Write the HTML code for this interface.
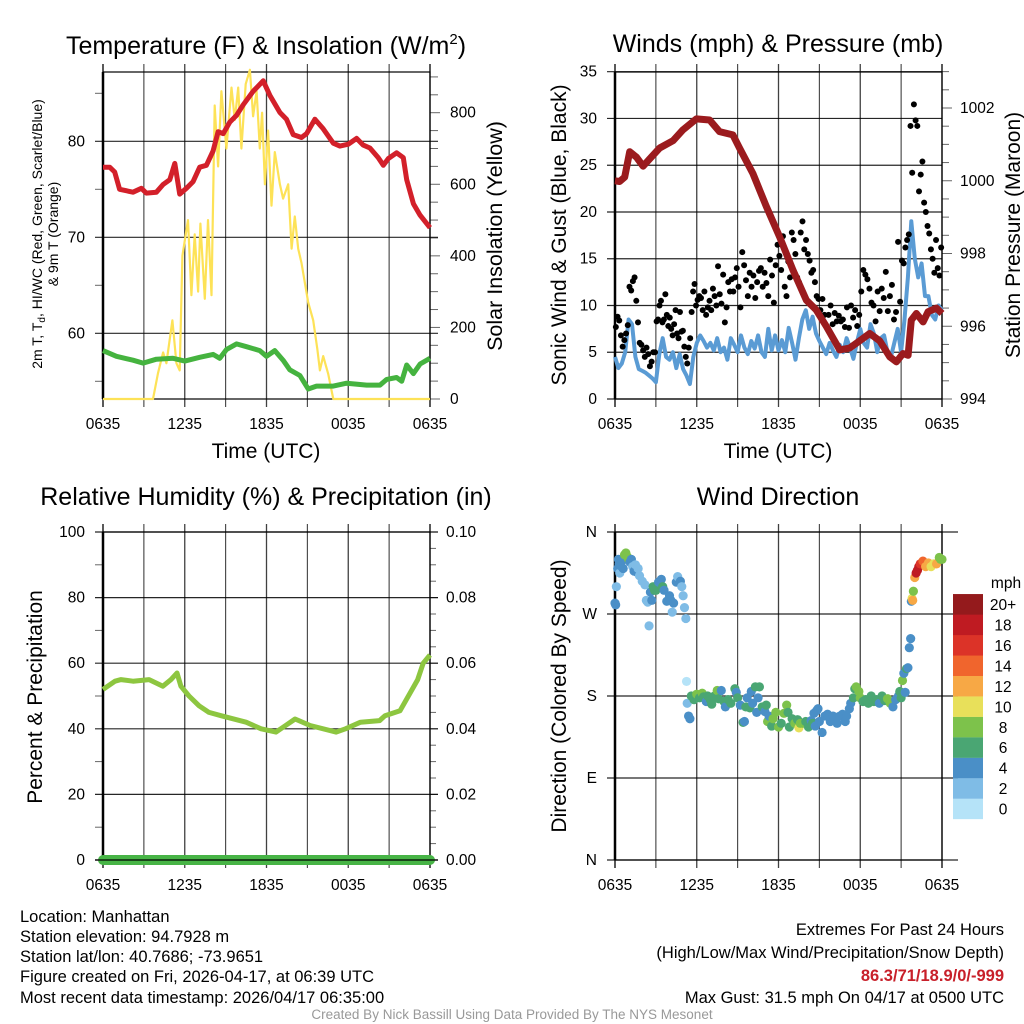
<!DOCTYPE html>
<html><head><meta charset="utf-8"><style>
html,body{margin:0;padding:0;background:#fff}
svg{display:block;font-family:"Liberation Sans",sans-serif}
</style></head><body>
<svg id="fig" width="1024" height="1024" viewBox="0 0 1024 1024" xmlns="http://www.w3.org/2000/svg">
<g id="layer"></g>
<g font-size="16.5" fill="#000">
<text x="20" y="922">Location: Manhattan</text>
<text x="20" y="942">Station elevation: 94.7928 m</text>
<text x="20" y="962">Station lat/lon: 40.7686; -73.9651</text>
<text x="20" y="982">Figure created on Fri, 2026-04-17, at 06:39 UTC</text>
<text x="20" y="1003">Most recent data timestamp: 2026/04/17 06:35:00</text>
<text x="1004" y="935" text-anchor="end">Extremes For Past 24 Hours</text>
<text x="1004" y="958" text-anchor="end">(High/Low/Max Wind/Precipitation/Snow Depth)</text>
<text x="1004" y="981" text-anchor="end" fill="#c8202a" font-weight="bold">86.3/71/18.9/0/-999</text>
<text x="1004" y="1003" text-anchor="end">Max Gust: 31.5 mph On 04/17 at 0500 UTC</text>
<text x="512" y="1019" text-anchor="middle" font-size="13.5" fill="#999">Created By Nick Bassill Using Data Provided By The NYS Mesonet</text>
</g>
</svg>
<script>
// ---------- DATA ----------
const timeTickLabels = ["0635","1235","1835","0035","0635"];
const tempT = [0,0.49,0.86,1.22,2.2,2.82,3.18,3.92,4.41,4.9,5.27,5.63,6.12,6.61,7.1,7.59,8.08,8.45,8.82,9.31,9.8,10.29,11.02,11.76,12.24,12.98,13.47,13.96,14.57,14.94,15.55,16.16,16.9,17.39,18.0,18.61,19.1,19.59,20.2,20.57,20.94,21.55,22.04,22.29,22.78,23.27,24];
const tempV = [77.3,77.3,76.8,75.0,74.7,75.1,74.6,74.7,75.5,76.0,77.7,74.5,75.1,75.8,77.3,77.5,79.0,81.0,80.8,82.0,82.7,83.8,85.2,86.3,84.8,83.0,82.3,80.7,80.4,80.8,82.3,81.3,79.8,79.5,79.7,80.3,79.6,79.3,78.3,77.5,78.2,78.8,78.3,76.0,73.5,72.3,71.0];
const dewT = [0,0.98,2.2,2.94,3.92,5.14,6.0,7.1,8.08,8.57,9.06,9.8,10.53,11.51,12.0,12.61,13.22,13.71,14.45,15.06,15.67,16.9,17.88,19.35,20.33,20.82,21.55,21.92,22.29,22.78,23.27,24];
const dewV = [58.2,57.6,57.2,56.9,57.3,57.4,57.1,57.5,57.8,57.4,58.3,58.9,58.6,58.2,57.6,58.2,57.2,56.2,55.6,54.2,54.5,54.5,54.8,54.6,54.6,55.2,55.4,55.0,56.7,55.8,56.8,57.4];
const solarT = [0,3.67,4.04,4.41,4.65,5.09,5.39,5.63,5.83,6.24,6.49,6.73,6.98,7.15,7.47,7.71,7.96,8.2,8.45,8.69,9.06,9.43,9.67,9.92,10.16,10.47,10.78,11.02,11.27,11.51,11.68,11.88,12.12,12.37,12.61,12.98,13.22,13.59,13.84,14.08,14.33,14.57,15.06,15.43,15.73,15.92,16.16,16.53,16.9,24];
const solarV = [0,0,72,130,100,220,100,80,400,500,290,460,300,490,280,500,290,820,650,860,700,870,780,870,700,880,920,790,860,700,800,600,750,540,690,600,560,600,420,510,420,380,270,220,140,80,120,70,0,0];
const windSpd = [4.5,3.3,3.8,5,8.5,8,4.5,3.2,3,2.8,2.5,2.2,1.8,4.8,6.5,4.5,4.2,5,3.3,4.8,3.2,2.5,1.6,4.5,6,6.8,6.2,5.5,6,5.2,6.5,5,5.5,4.2,6.5,5.8,5,6.8,5.5,4.8,6.2,5.4,6.8,5,4.5,7.5,5.2,6.8,5.2,6.3,5,7.6,6,4.2,6.5,8.5,9.5,7.5,8.8,7,6.2,5.5,4.8,6,5.2,4.5,5.8,5,6.5,5.5,4.3,6,7.5,6,5.5,8,7,5,6.5,6.8,5,4.5,6,7.5,5,8.5,13,19,15,13,14.5,11,11,9,8.5,10,9.5];
const gustBlock0 = [7.7,8.8,8.4,6.8,5.6,6.3,7,7.9,12,11.6,12.6,13,10.5,8.2,6,5.8,5.2,4.5,5.5,4.8,3.5,4,5,5];
const gustBlock1 = [8.3,8.5,10,10.5,8.2,8.5,11.2,9,7.8,8.7,7.5,6.8,8,9.5,7,6.5,9.3,7.2,7.3,5.6,4.5,3.8,5.5,6.5,9.3,11.5,12.3,10];
const gustBlock2 = [10.6,11,10.8,9.5,11.5,9,9.8,10.5,9.5,11.8,11,10,14.2,11.2,10.2,13.3,8.2,9.8,12.5,11.5,12.8,11.5,13,14];
const gustBlock3 = [12,9.8,15.7,14.3,12.7,11,13.5,12,13.2,10.8,12.5,13.7,14,12,13.5,12.4,11,14.9,13.2,10.3,14.3,16.5];
const gustBlock4 = [15.3,13.8,17.4,12,11,14.7,13,17.8,17,15.5,13,12.5,17.8,19,16,17,15.5,14.8,13.5,13.8,12.5,11,10.7];
const gustBlock5 = [9.5,10.7,9,7.7,9,10,8,9.2,8.3,8.9,8.3,8.5,7.7,9.8,7.6,10,8.7,9.5,7.8,9];
const gustBlock6 = [11.5,13.8,13.3,12.8,11.8,10.3,10,8.3,11.5,9.4,11.8,10.8,13.6,9.4,11,12.2,8.5,9.3,16.8,10.4];
const gustBlock7 = [14.8,14.5,16.2,17,17.6,29.2,24.2,31.5,29.8,29.2,22.2,24,25.4,21,20,18.5,17.7,16,15,13.5,17,14,13.2,16.2];
const presT = [0,0.34,0.71,1.08,1.57,2.06,2.55,3.28,4.26,4.99,5.97,6.94,7.67,8.65,9.14,10.12,11.1,12.08,13.06,14.04,14.77,15.51,16.49,17.22,17.96,18.69,19.43,20.16,20.65,21.14,21.51,21.75,22.12,22.61,22.98,23.6,24];
const presV = [1000.0,999.98,1000.1,1000.8,1000.65,1000.4,1000.6,1000.9,1001.1,1001.4,1001.7,1001.67,1001.35,1001.26,1000.9,1000.2,999.3,998.46,997.55,996.72,996.45,996.0,995.35,995.4,995.6,995.8,995.6,995.16,995.02,995.25,995.2,996.17,996.35,996.12,996.4,996.5,996.35];
const rhT = [0,0.88,1.32,2.2,3.38,4.4,4.99,5.43,5.72,6.31,7.05,7.78,8.66,10.5,11.6,12.7,13.4,14.1,15.2,17.1,17.8,18.9,20.3,20.7,21.8,23.1,23.5,24];
const rhV = [52,54.5,55,54.5,55,53,55,57,53,50,47,45,44,42,40,39,41,43,41,39,40,42,42.5,44,45.5,55,60,62.5];
const precipT = [0,24];
const precipV = [0,0];
const dirT = [0,0.05,0.1,0.2,0.25,0.3,0.35,0.4,0.5,0.6,0.7,0.8,0.9,1.0,1.1,1.2,1.3,1.4,1.5,1.6,1.7,1.8,2.0,2.2,2.3,2.4,2.5,2.6,2.7,2.8,2.9,3.0,3.1,3.2,3.4,3.5,3.6,3.8,4.0,4.1,4.2,4.3,4.5,4.6,4.8,4.9,5.0,5.1,5.2,5.25,5.3,5.4,5.5,5.6,5.8,6.0,6.2,6.4,6.5,6.7,6.8,7.0,7.1,7.3,7.5,7.6,7.8,8.0,8.1,8.3,8.5,8.8,8.9,9.0,9.2,9.4,9.5,9.6,9.7,9.9,10.0,10.1,10.3,10.4,10.5,10.6,10.8,11.0,11.1,11.2,11.3,11.5,11.6,11.8,12.0,12.2,12.4,12.6,12.7,12.8,13.0,13.2,13.4,13.5,13.6,13.8,14.0,14.2,14.4,14.5,14.6,14.7,14.8,14.9,15.0,15.2,15.4,15.6,15.8,16.0,16.3,16.5,16.7,16.9,17.0,17.2,17.3,17.5,17.6,17.7,17.9,18.0,18.2,18.4,18.6,18.8,19.0,19.2,19.4,19.6,19.8,20.0,20.2,20.4,20.6,20.8,20.9,21.0,21.1,21.2,21.3,21.4,21.5,21.6,21.7,21.75,21.8,21.85,21.9,22.0,22.1,22.2,22.3,22.4,22.6,22.8,23.0,23.2,23.4,23.6,23.8,23.9,24.0];
const dirDeg = [282,280,300,320,330,325,315,323,328,320,335,337,333,330,327,330,322,317,324,316,320,312,306,302,285,283,257,294,285,300,296,296,300,305,308,300,296,284,290,285,272,282,305,311,306,300,290,277,265,196,172,158,155,180,176,182,178,183,179,174,180,176,171,180,186,177,186,174,168,176,172,188,184,178,170,151,152,168,178,167,185,172,190,162,178,190,168,163,170,152,158,147,155,162,146,150,161,170,162,146,155,150,154,145,150,150,152,146,153,150,161,147,164,166,152,140,158,160,152,158,150,158,160,152,158,166,172,178,188,190,185,178,174,176,172,180,174,176,172,180,175,177,172,168,176,180,185,178,197,205,184,210,211,233,243,284,287,285,295,310,315,318,322,325,328,322,326,322,325,325,332,330,330];
const dirSpd = [4,4,2,4,4,4,2,4,4,4,8,8,8,8,4,4,2,4,2,4,2,2,2,2,2,2,2,4,4,6,6,6,6,4,4,6,4,4,4,4,2,4,4,2,4,2,2,2,2,0,2,4,4,6,6,8,6,8,6,4,6,6,6,6,8,6,4,6,4,6,6,6,4,6,4,6,4,6,4,6,4,4,6,4,4,6,6,4,6,8,4,6,8,8,8,6,8,8,6,6,6,8,6,10,8,8,6,6,4,6,4,4,4,4,4,4,4,4,4,4,4,4,4,4,4,4,4,6,6,8,8,8,6,6,6,6,6,6,4,6,6,8,8,4,4,4,6,6,8,4,4,6,4,4,4,4,10,12,8,12,18,18,18,16,14,12,12,10,10,12,8,8,8,10];
const speedBinLabels = ["0","2","4","6","8","10","12","14","16","18","20+"];
const speedBinColors = ["#b5e3f8","#7fbce6","#4a8fc7","#4aa673","#7dc24b","#e8e05a","#f7a845","#f0652d","#dc3328","#bf1b22","#941a1c"];

// ---------- HELPERS ----------
const NS="http://www.w3.org/2000/svg";
const layer=document.getElementById('layer');
const TF=15.5, AF=21, TTF=25;
function mk(tag,attrs,parent){const e=document.createElementNS(NS,tag);for(const k in attrs)e.setAttribute(k,attrs[k]);(parent||layer).appendChild(e);return e;}
function txt(s,attrs,parent){const e=mk('text',attrs,parent);e.textContent=s;return e;}
function lin(d0,d1,r0,r1){return v=>r0+(v-d0)/(d1-d0)*(r1-r0);}
function pathD(xs,ys,fx,fy){return xs.map((t,i)=>(i?'L':'M')+fx(t).toFixed(1)+','+fy(ys[i]).toFixed(1)).join('');}

function frame(g,X0,X1,Y0,Y1,fx){
  for(let h=0;h<=24;h+=3){
    const l=mk('line',{x1:fx(h),x2:fx(h),y1:Y0-8,y2:Y1+8,stroke:'#000','stroke-width':(h%6===0)?1.3:1.1,'stroke-opacity':(h===0||h===24)?1:0.75},g);
    
    
  }
  mk('rect',{x:X0,y:Y0,width:X1-X0,height:Y1-Y0,fill:'none',stroke:'#000','stroke-width':1.2},g);
  mk('line',{x1:X0,x2:X0,y1:Y0,y2:Y1,stroke:'#000','stroke-width':2.5},g);
  timeTickLabels.forEach((s,i)=>{
    const t=txt(s,{x:fx(i*6),y:Y1+30,'text-anchor':'middle','font-size':TF},g);
    
    
  });
}
function hgrid(g,X0,X1,y,strong){mk('line',{x1:X0-8,x2:X1+(strong?8:0),y1:y,y2:y,stroke:'#000','stroke-width':1.2,'stroke-opacity':0.85},g);}
function tick(g,x,y,len){mk('line',{x1:x,x2:x+len,y1:y,y2:y,stroke:'#000','stroke-width':1,'stroke-opacity':0.6},g);}

// ---------- PANEL 1: Temperature ----------
(function(){
  const g=mk('g',{});  
  const X0=103,X1=430,Y0=72,Y1=399;
  const fx=lin(0,24,X0,X1), fy=lin(60,80,333.3,141.3), fs=lin(0,800,399,112.7);
  frame(g,X0,X1,Y0,Y1,fx);
  [80,70,60].forEach(v=>{hgrid(g,X0,X1,fy(v),true);const t=txt(String(v),{x:X0-18,y:fy(v)+5,'text-anchor':'end','font-size':TF},g);});
  [85,75,65,55].forEach(v=>tick(g,X0,fy(v),-8));
  for(let v=0;v<=900;v+=50){tick(g,X1,fs(v),v%200===0?10:8);}
  [0,200,400,600,800].forEach(v=>{const t=txt(String(v),{x:X1+20,y:fs(v)+5,'font-size':TF},g);});
  const s=mk('path',{d:pathD(solarT,solarV,fx,fs),fill:'none',stroke:'#fde257','stroke-width':2.2,'stroke-linejoin':'round'},g);
   
  const d=mk('path',{d:pathD(dewT,dewV,fx,fy),fill:'none',stroke:'#45b33f','stroke-width':5,'stroke-linejoin':'round'},g);
   
  const r=mk('path',{d:pathD(tempT,tempV,fx,fy),fill:'none',stroke:'#d3202a','stroke-width':5,'stroke-linejoin':'round'},g);
   
  const ti=mk('text',{x:266,y:54,'text-anchor':'middle','font-size':TTF},g); ti.innerHTML='Temperature (F) &amp; Insolation (W/m<tspan dy="-10" font-size="15">2</tspan><tspan dy="10">)</tspan>';
   
  const xt=txt('Time (UTC)',{x:266,y:458,'text-anchor':'middle','font-size':AF},g);  
  const rt=txt('Solar Insolation (Yellow)',{x:0,y:0,'text-anchor':'middle','font-size':21.5,transform:'translate(502,236) rotate(-90)'},g);  
  const lt=mk('text',{x:0,y:0,'text-anchor':'middle','font-size':14,transform:'translate(42,234) rotate(-90)'},g);
  lt.innerHTML='2m T, T<tspan dy="3" font-size="10">d</tspan><tspan dy="-3">, HI/WC (Red, Green, Scarlet/Blue)</tspan>';
   
  const lt2=txt('& 9m T (Orange)',{x:0,y:0,'text-anchor':'middle','font-size':14,transform:'translate(58,234) rotate(-90)'},g);
   
})();

// ---------- PANEL 2: Winds ----------
(function(){
  const g=mk('g',{});  
  const X0=615,X1=942,Y0=72,Y1=399;
  const fx=lin(0,24,X0,X1), fy=lin(0,35,399,71.7), fp=lin(994,1002,399,108);
  frame(g,X0,X1,Y0,Y1,fx);
  for(let v=0;v<=35;v+=5){hgrid(g,X0,X1,fy(v),false);const t=txt(String(v),{x:X0-18,y:fy(v)+5,'text-anchor':'end','font-size':TF},g);}
  for(let v=994;v<=1003;v+=0.5){tick(g,X1,fp(v),v%2===0?10:7);}
  [994,996,998,1000,1002].forEach(v=>{const t=txt(String(v),{x:X1+18,y:fp(v)+5,'font-size':TF},g);});
  const wT=windSpd.map((v,i)=>i*24/(windSpd.length-1));
  const w=mk('path',{d:pathD(wT,windSpd,fx,fy),fill:'none',stroke:'#5a9bd4','stroke-width':4,'stroke-linejoin':'round'},g);
   
  const blocks=[gustBlock0,gustBlock1,gustBlock2,gustBlock3,gustBlock4,gustBlock5,gustBlock6,gustBlock7];
  blocks.forEach((b,bi)=>b.forEach((v,i)=>{
    const c=mk('circle',{cx:fx(bi*3+(i+0.5)*3/b.length),cy:fy(v),r:3,fill:'#000'},g);
    
    
  }));
  const p=mk('path',{d:pathD(presT,presV,fx,fp),fill:'none',stroke:'#9b1b1e','stroke-width':7,'stroke-linejoin':'round'},g);
   
  const ti=txt('Winds (mph) & Pressure (mb)',{x:778,y:52,'text-anchor':'middle','font-size':TTF},g);  
  const xt=txt('Time (UTC)',{x:778,y:458,'text-anchor':'middle','font-size':AF},g);  
  const lt=txt('Sonic Wind & Gust (Blue, Black)',{x:0,y:0,'text-anchor':'middle','font-size':AF,transform:'translate(566,235) rotate(-90)'},g);  
  const rt=txt('Station Pressure (Maroon)',{x:0,y:0,'text-anchor':'middle','font-size':AF,transform:'translate(1020,235) rotate(-90)'},g);  
})();

// ---------- PANEL 3: RH ----------
(function(){
  const g=mk('g',{});  
  const X0=103,X1=430,Y0=532,Y1=860;
  const fx=lin(0,24,X0,X1), fy=lin(0,100,860,532), fr=lin(0,0.1,860,532);
  frame(g,X0,X1,Y0,Y1,fx);
  for(let v=0;v<=100;v+=20){hgrid(g,X0,X1,fy(v),true);const t=txt(String(v),{x:X0-18,y:fy(v)+5,'text-anchor':'end','font-size':TF},g);}
  for(let v=10;v<100;v+=20)tick(g,X0,fy(v),-8);
  for(let i=0;i<=20;i++)tick(g,X1,fr(i*0.005),i%4===0?8:6);
  ['0.00','0.02','0.04','0.06','0.08','0.10'].forEach((s,i)=>{const t=txt(s,{x:X1+16,y:fr(i*0.02)+5,'font-size':TF},g);});
  const r=mk('path',{d:pathD(rhT,rhV,fx,fy),fill:'none',stroke:'#8dc640','stroke-width':5,'stroke-linejoin':'round'},g);
   
  const p=mk('path',{d:pathD(precipT,precipV,fx,fr),fill:'none',stroke:'#47b446','stroke-width':10,'stroke-linecap':'round'},g);
   
  mk('line',{x1:X0-8,x2:X1+8,y1:Y1,y2:Y1,stroke:'#000','stroke-width':1.2},g);
  const ti=txt('Relative Humidity (%) & Precipitation (in)',{x:266,y:505,'text-anchor':'middle','font-size':TTF},g);  
  const lt=txt('Percent & Precipitation',{x:0,y:0,'text-anchor':'middle','font-size':AF,transform:'translate(42,697) rotate(-90)'},g);  
})();

// ---------- PANEL 4: Wind direction ----------
(function(){
  const g=mk('g',{});  
  const X0=615,X1=942,Y0=532,Y1=860;
  const fx=lin(0,24,X0,X1), fy=lin(0,360,860,532);
  frame(g,X0,X1,Y0,Y1,fx);
  ['N','E','S','W','N'].forEach((s,i)=>{hgrid(g,X0,X1+8,fy(i*90),true);const t=txt(s,{x:X0-18,y:fy(i*90)+5,'text-anchor':'end','font-size':TF},g);});
  dirT.forEach((t,i)=>{
    const c=mk('circle',{cx:fx(t),cy:fy(dirDeg[i]),r:4.6,fill:speedBinColors[Math.min(10,Math.floor(dirSpd[i]/2))]},g);
    
    
  });
  speedBinColors.forEach((col,i)=>{
    const y=819-(i+1)*20.45;
    const r=mk('rect',{x:953,y:y,width:30,height:20.6,fill:col},g);
    
    
    const t=txt(speedBinLabels[i],{x:1003,y:y+16,'text-anchor':'middle','font-size':TF},g);
    
    
  });
  const u=txt('mph',{x:1006,y:588,'text-anchor':'middle','font-size':TF},g);  
  const ti=txt('Wind Direction',{x:778,y:505,'text-anchor':'middle','font-size':TTF},g);  
  const lt=txt('Direction (Colored By Speed)',{x:0,y:0,'text-anchor':'middle','font-size':AF,transform:'translate(566,696) rotate(-90)'},g);  
})();
</script>
</body></html>
